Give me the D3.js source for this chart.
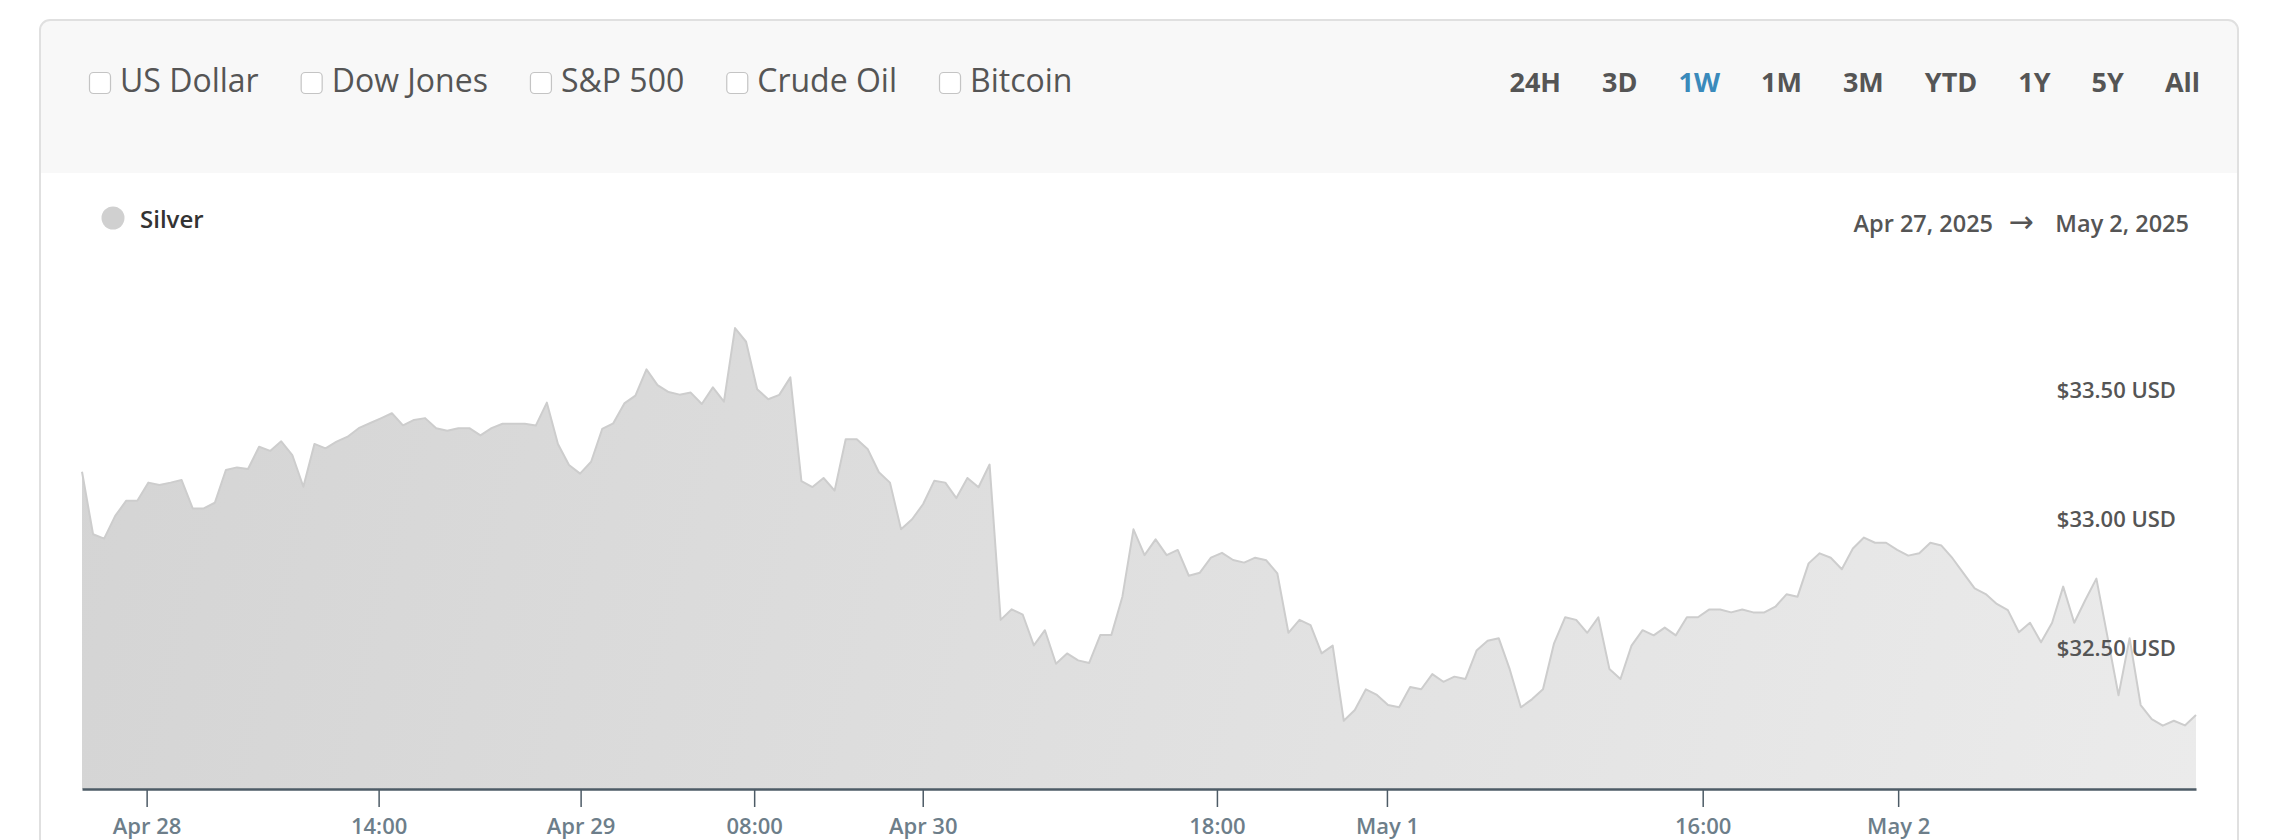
<!DOCTYPE html>
<html><head><meta charset="utf-8">
<script src="https://cdn.jsdelivr.net/npm/d3@7"></script>
<style>
body{margin:0;background:#fff;}
svg{display:block;font-family:"Open Sans",sans-serif;}
</style>
</head><body><svg id="c" width="2288" height="840"></svg>
<script>
const compareItems = ["US Dollar","Dow Jones","S&P 500","Crude Oil","Bitcoin"];
const rangeButtons = ["24H","3D","1W","1M","3M","YTD","1Y","5Y","All"];
const activeRange = "1W";
const seriesName = "Silver";
const dateFrom = "Apr 27, 2025";
const dateTo = "May 2, 2025";
const silverPrices = [
33.183,32.941,32.924,33.012,33.071,33.071,33.141,33.132,33.141,33.151,
33.041,33.041,33.063,33.190,33.200,33.194,33.280,33.264,33.301,33.248,
33.125,33.291,33.274,33.300,33.319,33.352,33.371,33.390,33.410,33.363,
33.384,33.391,33.352,33.342,33.352,33.352,33.324,33.352,33.369,33.369,
33.369,33.362,33.451,33.291,33.209,33.176,33.222,33.349,33.371,33.448,
33.478,33.580,33.519,33.492,33.482,33.490,33.446,33.510,33.455,33.740,
33.687,33.503,33.464,33.481,33.549,33.147,33.124,33.159,33.110,33.309,
33.309,33.270,33.181,33.141,32.960,32.999,33.058,33.148,33.141,33.081,
33.159,33.123,33.211,32.609,32.650,32.629,32.510,32.569,32.439,32.479,
32.452,32.442,32.550,32.550,32.699,32.960,32.860,32.921,32.860,32.880,
32.780,32.792,32.850,32.869,32.841,32.831,32.850,32.840,32.789,32.559,
32.609,32.589,32.479,32.509,32.218,32.260,32.340,32.318,32.279,32.270,
32.349,32.340,32.399,32.369,32.389,32.380,32.490,32.528,32.538,32.417,
32.270,32.301,32.340,32.518,32.619,32.609,32.559,32.619,32.419,32.380,
32.509,32.569,32.549,32.579,32.549,32.619,32.619,32.649,32.649,32.638,
32.649,32.638,32.638,32.660,32.708,32.699,32.828,32.867,32.850,32.805,
32.886,32.928,32.908,32.908,32.880,32.858,32.867,32.908,32.897,32.848,
32.789,32.731,32.709,32.671,32.647,32.561,32.598,32.522,32.598,32.738,
32.598,32.686,32.769,32.544,32.317,32.538,32.279,32.224,32.199,32.218,
32.200,32.240
];
const yTickValues = [32.5, 33.0, 33.5];
const xTickLabels = ["Apr 28","14:00","Apr 29","08:00","Apr 30","18:00","May 1","16:00","May 2"];
const xTickIndex  = [5.84, 26.80, 45.05, 60.73, 75.96, 102.54, 117.90, 146.43, 164.09];

const svg = d3.select("#c");
const defs = svg.append("defs");

// card
const card = {x:40, y:20, w:2198, h:900, r:10};
defs.append("clipPath").attr("id","cardClip").append("rect")
  .attr("x",card.x).attr("y",card.y).attr("width",card.w).attr("height",card.h).attr("rx",card.r);
svg.append("rect").attr("x",card.x).attr("y",card.y).attr("width",card.w).attr("height",card.h)
  .attr("rx",card.r).attr("fill","#fff");
svg.append("rect").attr("clip-path","url(#cardClip)")
  .attr("x",card.x).attr("y",card.y).attr("width",card.w).attr("height",153).attr("fill","#f8f8f8");
svg.append("rect").attr("x",card.x).attr("y",card.y).attr("width",card.w).attr("height",card.h)
  .attr("rx",card.r).attr("fill","none").attr("stroke","#e0e0e0").attr("stroke-width",2);

// compare checkboxes
let cx = 89;
compareItems.forEach(name => {
  svg.append("rect").attr("x",cx+0.5).attr("y",72.5).attr("width",21).attr("height",21).attr("rx",4)
    .attr("fill","#fff").attr("stroke","#c4c4c4").attr("stroke-width",1.2);
  const t = svg.append("text").attr("x",cx+31).attr("y",92).attr("font-size",32)
    .attr("fill","#555").text(name);
  cx = cx + 31 + t.node().getComputedTextLength() + 42;
});

// range buttons (right aligned)
let rx = 2200;
rangeButtons.slice().reverse().forEach(name => {
  const t = svg.append("text").attr("x",rx).attr("y",92).attr("text-anchor","end")
    .attr("font-size",27).attr("font-weight",700)
    .attr("fill", name===activeRange ? "#3a8abb" : "#555").text(name);
  rx = rx - t.node().getComputedTextLength() - 41;
});

// legend
svg.append("circle").attr("cx",113).attr("cy",218).attr("r",11.5).attr("fill","#d0d0d0");
svg.append("text").attr("x",140).attr("y",228).attr("font-size",24).attr("font-weight",600)
  .attr("fill","#333").text(seriesName);

// date range
const dateG = svg.append("g").attr("font-size",23.5).attr("font-weight",600).attr("fill","#555");
dateG.append("text").attr("x",2189).attr("y",232).attr("text-anchor","end").text(dateTo);
dateG.append("text").attr("x",2021).attr("y",232).attr("text-anchor","middle")
  .attr("font-weight",400).attr("font-size",30).attr("font-family","DejaVu Sans").text("\u2192");
dateG.append("text").attr("x",1993).attr("y",232).attr("text-anchor","end").text(dateFrom);

// scales
const plotLeft = 82, plotRight = 2196, plotBottom = 789;
const x = d3.scaleLinear().domain([0, silverPrices.length-1]).range([plotLeft, plotRight]);
const y = d3.scaleLinear().domain([32.5, 33.5]).range([648, 390]);

// gradient
const grad = defs.append("linearGradient").attr("id","areaGrad")
  .attr("gradientUnits","userSpaceOnUse").attr("x1",plotLeft).attr("y1",300).attr("x2",plotRight).attr("y2",789);
grad.append("stop").attr("offset","0").attr("stop-color","#d4d4d4");
grad.append("stop").attr("offset","1").attr("stop-color","#ebebeb");

const area = d3.area().x((d,i)=>x(i)).y0(plotBottom).y1(d=>y(d));
const line = d3.line().x((d,i)=>x(i)).y(d=>y(d));
svg.append("path").datum(silverPrices).attr("d",area).attr("fill","url(#areaGrad)");
svg.append("path").datum(silverPrices).attr("d",line).attr("fill","none")
  .attr("stroke","#cdcdcd").attr("stroke-width",2).attr("stroke-linejoin","round");

// y axis labels
const yAxis = d3.axisLeft(y).tickValues(yTickValues).tickSize(0)
  .tickFormat(v => "$" + v.toFixed(2) + " USD");
const yg = svg.append("g").attr("transform","translate(2176,0)").call(yAxis);
yg.select(".domain").remove();
yg.selectAll("text").attr("x",0).attr("dy","0.35em").attr("font-size",22).attr("font-weight",600)
  .attr("fill","#555").attr("font-family","Open Sans");

// x axis
const xAxis = d3.axisBottom(x).tickValues(xTickIndex).tickSize(18).tickSizeOuter(0)
  .tickFormat((d,i)=>xTickLabels[i]);
const xg = svg.append("g").attr("transform",`translate(0,${plotBottom})`).call(xAxis);
xg.select(".domain").attr("stroke","#4d5b66").attr("stroke-width",2.5);
xg.selectAll(".tick line").attr("stroke","#4d5b66").attr("stroke-width",1.5);
xg.selectAll(".tick text").attr("y",45).attr("dy",0).attr("font-size",22).attr("font-weight",600)
  .attr("fill","#6d7e8a").attr("font-family","Open Sans");
</script>
</body></html>
